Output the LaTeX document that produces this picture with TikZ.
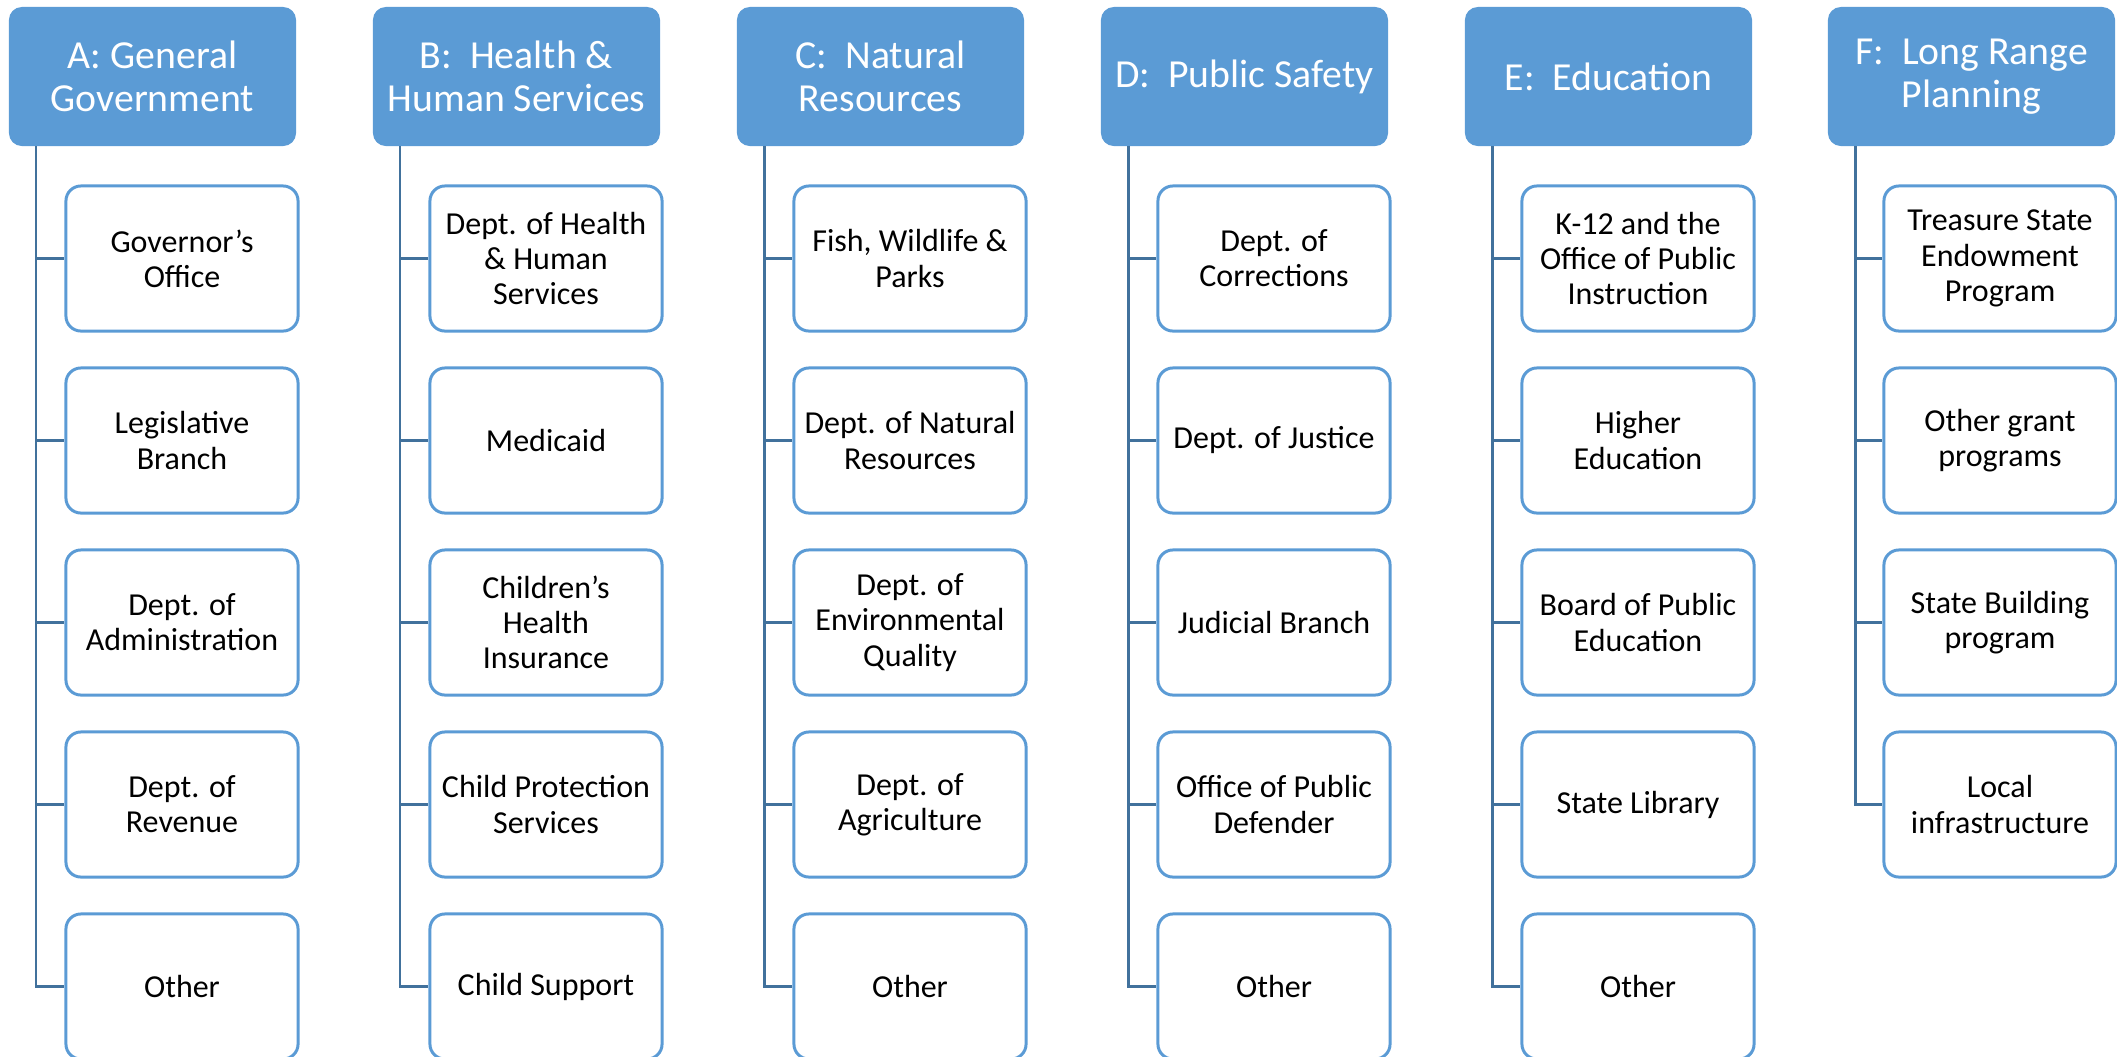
\documentclass[tikz,border=0pt]{standalone}
\usepackage{fontspec}
\setmainfont{Carlito}
\usepackage{tikz}
\usetikzlibrary{positioning}
\definecolor{hdrblue}{HTML}{5B9BD5}
\definecolor{lineblue}{HTML}{41719C}

\begin{document}
\begin{tikzpicture}[x=0.01cm,y=-0.01cm,
  head/.style={fill=hdrblue,rounded corners=0.13cm,minimum width=2.87cm,minimum height=1.39cm,
    inner sep=0pt,text=white,align=center,font=\fontsize{11.3}{12.3}\selectfont},
  unit/.style={draw=hdrblue,fill=white,line width=0.85pt,rounded corners=0.15cm,minimum width=2.32cm,
    minimum height=1.45cm,inner sep=0pt,align=center,font=\fontsize{9.1}{10}\selectfont},
  branch/.style={draw=lineblue,line width=0.85pt}]
\useasboundingbox (0,0) rectangle (2117,1057);

% A
\node[head] (hA) at (152.5,76.5) {A: General\\Government};
\coordinate (tA) at (36,146);
\node[unit] (a1) at (182,258.5) {Governor’s\\Office};
\node[unit] (a2) at (182,440.5) {Legislative\\Branch};
\node[unit] (a3) at (182,622.5) {Dept. of\\Administration};
\node[unit] (a4) at (182,804.5) {Dept. of\\Revenue};
\node[unit] (a5) at (182,986.5) {Other};
\draw[branch] (tA) |- (a5.west) (tA |- a1.west) -- (a1.west) (tA |- a2.west) -- (a2.west)
  (tA |- a3.west) -- (a3.west) (tA |- a4.west) -- (a4.west);

% B
\node[head] (hB) at (516.5,76.5) {B:~ Health \&\\Human Services};
\coordinate (tB) at (400,146);
\node[unit] (b1) at (546,258.5) {Dept. of Health\\\& Human\\Services};
\node[unit] (b2) at (546,440.5) {Medicaid};
\node[unit] (b3) at (546,622.5) {Children’s\\Health\\Insurance};
\node[unit] (b4) at (546,804.5) {Child Protection\\Services};
\node[unit] (b5) at (546,986.5) {Child Support};
\draw[branch] (tB) |- (b5.west) (tB |- b1.west) -- (b1.west) (tB |- b2.west) -- (b2.west)
  (tB |- b3.west) -- (b3.west) (tB |- b4.west) -- (b4.west);

% C
\node[head] (hC) at (880.5,76.5) {C:~ Natural\\Resources};
\coordinate (tC) at (764,146);
\node[unit] (c1) at (910,258.5) {Fish, Wildlife \&\\Parks};
\node[unit] (c2) at (910,440.5) {Dept. of Natural\\Resources};
\node[unit] (c3) at (910,622.5) {Dept. of\\Environmental\\Quality};
\node[unit] (c4) at (910,804.5) {Dept. of\\Agriculture};
\node[unit] (c5) at (910,986.5) {Other};
\draw[branch] (tC) |- (c5.west) (tC |- c1.west) -- (c1.west) (tC |- c2.west) -- (c2.west)
  (tC |- c3.west) -- (c3.west) (tC |- c4.west) -- (c4.west);

% D
\node[head] (hD) at (1244.5,76.5) {D:~ Public Safety};
\coordinate (tD) at (1128,146);
\node[unit] (d1) at (1274,258.5) {Dept. of\\Corrections};
\node[unit] (d2) at (1274,440.5) {Dept. of Justice};
\node[unit] (d3) at (1274,622.5) {Judicial Branch};
\node[unit] (d4) at (1274,804.5) {Office of Public\\Defender};
\node[unit] (d5) at (1274,986.5) {Other};
\draw[branch] (tD) |- (d5.west) (tD |- d1.west) -- (d1.west) (tD |- d2.west) -- (d2.west)
  (tD |- d3.west) -- (d3.west) (tD |- d4.west) -- (d4.west);

% E
\node[head] (hE) at (1608.5,76.5) {E:~ Education};
\coordinate (tE) at (1492,146);
\node[unit] (e1) at (1638,258.5) {K-12 and the\\Office of Public\\Instruction};
\node[unit] (e2) at (1638,440.5) {Higher\\Education};
\node[unit] (e3) at (1638,622.5) {Board of Public\\Education};
\node[unit] (e4) at (1638,804.5) {State Library};
\node[unit] (e5) at (1638,986.5) {Other};
\draw[branch] (tE) |- (e5.west) (tE |- e1.west) -- (e1.west) (tE |- e2.west) -- (e2.west)
  (tE |- e3.west) -- (e3.west) (tE |- e4.west) -- (e4.west);

% F
\node[head] (hF) at (1971.5,76.5) {F:~ Long Range\\Planning};
\coordinate (tF) at (1855,146);
\node[unit] (f1) at (2000,258.5) {Treasure State\\Endowment\\Program};
\node[unit] (f2) at (2000,440.5) {Other grant\\programs};
\node[unit] (f3) at (2000,622.5) {State Building\\program};
\node[unit] (f4) at (2000,804.5) {Local\\infrastructure};
\draw[branch] (tF) |- (f4.west) (tF |- f1.west) -- (f1.west) (tF |- f2.west) -- (f2.west)
  (tF |- f3.west) -- (f3.west);
\end{tikzpicture}
\end{document}
